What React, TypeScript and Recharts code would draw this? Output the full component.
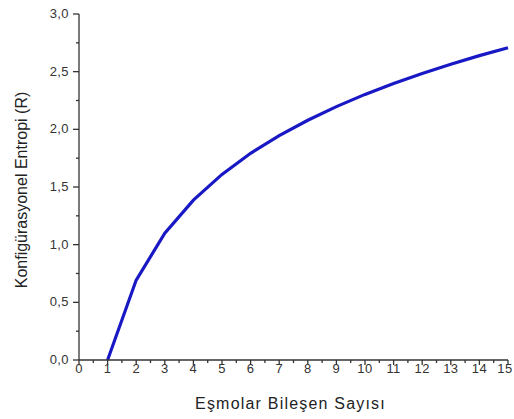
import { LineChart, Line, XAxis, YAxis } from "recharts";

// Bileşen sayısı ve konfigürasyonel entropi (R cinsinden)
const bilesenSayisi = [1, 2, 3, 4, 5, 6, 7, 8, 9, 10, 11, 12, 13, 14, 15];
const entropi = [
  0, 0.693, 1.099, 1.386, 1.609, 1.792, 1.946, 2.079, 2.197, 2.303, 2.398,
  2.485, 2.565, 2.639, 2.708,
];

// major ticks are labelled, the half steps are minor
const xTicks = [
  0, 0.5, 1, 1.5, 2, 2.5, 3, 3.5, 4, 4.5, 5, 5.5, 6, 6.5, 7, 7.5, 8, 8.5, 9,
  9.5, 10, 10.5, 11, 11.5, 12, 12.5, 13, 13.5, 14, 14.5, 15,
];
const yTicks = [
  0, 0.25, 0.5, 0.75, 1, 1.25, 1.5, 1.75, 2, 2.25, 2.5, 2.75, 3,
];

const data = bilesenSayisi.map((n, i) => ({ n, s: entropi[i] }));

const FONT = "'Liberation Sans', Arial, sans-serif";
const AXIS = "#333";
const WIDTH = 514;

function XTick({ x, y, payload }: any) {
  const major = Number.isInteger(payload.value);
  // keep the last label inside the svg
  const tx = Math.min(x, WIDTH - 9);
  return (
    <g>
      <line x1={x} x2={x} y1={y} y2={y + (major ? 5 : 3)} stroke={AXIS} strokeWidth={1.3} />
      {major && (
        <text x={tx} y={y + 13} textAnchor="middle" fontSize={13} letterSpacing={0.4} fill="#333" fontFamily={FONT}>
          {payload.value}
        </text>
      )}
    </g>
  );
}

function YTick({ x, y, payload }: any) {
  const major = payload.value * 2 === Math.round(payload.value * 2);
  return (
    <g>
      <line x1={x - (major ? 6 : 3)} x2={x} y1={y} y2={y} stroke={AXIS} strokeWidth={1.3} />
      {major && (
        <text x={x - 10} y={y + 4} textAnchor="end" fontSize={13} letterSpacing={0.4} fill="#333" fontFamily={FONT}>
          {payload.value.toFixed(1).replace(".", ",")}
        </text>
      )}
    </g>
  );
}

export default function App() {
  return (
    <div style={{ position: "absolute", left: 0, top: 0, width: WIDTH, height: 419, background: "#fff" }}>
      <LineChart
        width={WIDTH}
        height={419}
        data={data}
        margin={{ top: 14, right: 6, left: 8, bottom: 0 }}
      >
        <XAxis
          dataKey="n"
          type="number"
          domain={[0, 15]}
          ticks={xTicks}
          interval={0}
          tickSize={0}
          tickMargin={0}
          height={59}
          stroke={AXIS}
          strokeWidth={1.3}
          tick={<XTick />}
          label={{
            content: ({ viewBox }: any) => (
              <text
                x={viewBox.x + viewBox.width / 2 - 3}
                y={viewBox.y + 49}
                textAnchor="middle"
                fontSize={16}
                letterSpacing={1.2}
                fill="#222"
                fontFamily={FONT}
              >
                Eşmolar Bileşen Sayısı
              </text>
            ),
          }}
        />
        <YAxis
          type="number"
          domain={[0, 3]}
          ticks={yTicks}
          interval={0}
          tickSize={0}
          tickMargin={0}
          width={71}
          stroke={AXIS}
          strokeWidth={1.3}
          tick={<YTick />}
          label={{
            content: ({ viewBox }: any) => {
              const cx = viewBox.x + 19;
              const cy = viewBox.y + viewBox.height / 2 + 3;
              return (
                <text
                  x={cx}
                  y={cy}
                  transform={`rotate(-90 ${cx} ${cy})`}
                  textAnchor="middle"
                  fontSize={16}
                  fill="#222"
                  fontFamily={FONT}
                >
                  Konfigürasyonel Entropi (R)
                </text>
              );
            },
          }}
        />
        <Line
          type="linear"
          dataKey="s"
          stroke="#1818c4"
          strokeWidth={3.2}
          dot={false}
          isAnimationActive={false}
        />
      </LineChart>
    </div>
  );
}
